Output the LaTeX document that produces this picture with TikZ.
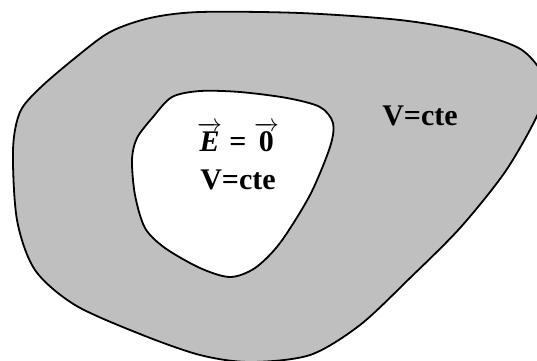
\documentclass[tikz,border=0pt]{standalone}
\usepackage{amsmath}
\usepackage{fontspec}
\setmainfont{Liberation Serif}
\usepackage{tikz}

\definecolor{condgray}{RGB}{191,191,191}

\begin{document}
\begin{tikzpicture}[x=1pt, y=-1pt,
  every node/.style={font=\fontsize{30}{34}\selectfont\bfseries}]

% Frame
\clip (0,0) rectangle (537,360);

% Conductor
\filldraw[fill=condgray, line width=1.8pt] plot[smooth cycle] coordinates {
  (13,150) (20,112) (40,88) (75,58) (110,32) (150,18) (200,12) (300,13)
  (400,20) (470,32) (522,50) (547,84) (536,118) (505,172) (460,228)
  (410,278) (360,325) (310,355) (250,362) (200,355) (140,334) (75,305)
  (35,270) (17,220)};

% Cavity
\filldraw[fill=white, line width=1.8pt] plot[smooth cycle] coordinates {
  (132,160) (137,138) (153,117) (172,97) (200,91) (240,92) (287,98)
  (320,107) (333,123) (330,147) (310,195) (280,243) (255,268) (230,277)
  (200,268) (165,248) (145,228) (135,195)};

% Labels
\node (Vout) at (420,116) {V=cte};
\node (field) at (238,137) {$\overrightarrow{\text{\itshape E}}$ = $\overrightarrow{\text{0}}$};
\node (Vin) at (238,180) {V=cte};

\end{tikzpicture}
\end{document}
